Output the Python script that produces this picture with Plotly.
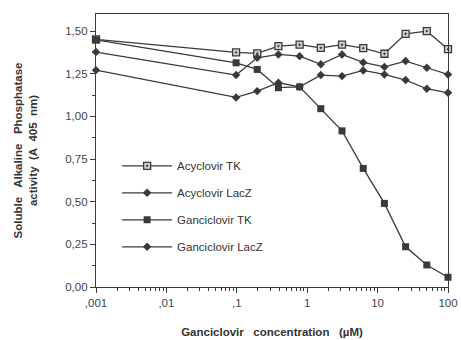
import plotly.graph_objects as go

conc = [0.001, 0.0977, 0.195, 0.39, 0.78, 1.56, 3.125, 6.25, 12.5, 25, 50, 100]
acyclovir_tk = [1.451, 1.375, 1.369, 1.412, 1.42, 1.402, 1.42, 1.40, 1.367, 1.484, 1.50, 1.394]
acyclovir_lacz = [1.377, 1.242, 1.343, 1.363, 1.353, 1.305, 1.363, 1.316, 1.29, 1.324, 1.285, 1.246]
ganciclovir_tk = [1.448, 1.314, 1.275, 1.168, 1.173, 1.045, 0.915, 0.695, 0.49, 0.236, 0.129, 0.057]
ganciclovir_lacz = [1.271, 1.111, 1.148, 1.197, 1.173, 1.242, 1.236, 1.269, 1.246, 1.213, 1.162, 1.138]

x_tickvals = [0.001, 0.01, 0.1, 1, 10, 100]
x_ticktext = [",001", ",01", ",1", "1", "10", "100"]
y_tickvals = [0, 0.25, 0.5, 0.75, 1.0, 1.25, 1.5]
y_ticktext = ["0,00", "0,25", "0,50", "0,75", "1,00", "1,25", "1,50"]

LINE = "#3a3a3a"
FONT = "Liberation Sans, Arial, sans-serif"

series = [
    ("Acyclovir TK", acyclovir_tk, dict(symbol="square-dot", size=7, color="#d0d0d0", line=dict(color=LINE, width=1.3))),
    ("Acyclovir LacZ", acyclovir_lacz, dict(symbol="diamond", size=6.5, color=LINE, line=dict(width=0))),
    ("Ganciclovir TK", ganciclovir_tk, dict(symbol="square", size=7, color=LINE, line=dict(width=0))),
    ("Ganciclovir LacZ", ganciclovir_lacz, dict(symbol="diamond", size=6.5, color=LINE, line=dict(width=0))),
]

fig = go.Figure()
for i, (name, ys, mk) in enumerate(series):
    fig.add_trace(go.Scatter(
        x=conc, y=ys, name=name, mode="lines+markers",
        line=dict(color=LINE, width=1.3), marker=mk,
        legendgroup=f"g{i}", cliponaxis=False,
    ))

minor_vals = [m * 10 ** e for e in range(-3, 2) for m in range(2, 10)]

fig.update_layout(
    width=461, height=340,
    margin=dict(l=96, r=13, t=14, b=53),
    paper_bgcolor="white", plot_bgcolor="white",
    font=dict(family=FONT, size=11, color="#333"),
    showlegend=True,
    legend=dict(x=0.06, y=0.497, xanchor="left", yanchor="top",
                bgcolor="rgba(0,0,0,0)", tracegroupgap=8, itemwidth=50,
                font=dict(size=11.5, color="#333")),
)
fig.update_xaxes(
    type="log", range=[-3, 2], tickvals=x_tickvals, ticktext=x_ticktext,
    ticks="outside", ticklen=5, tickwidth=1.2, tickcolor=LINE,
    minor=dict(tickvals=minor_vals, ticks="outside", ticklen=3, tickcolor=LINE, showgrid=False),
    showgrid=False, zeroline=False, showline=True, linecolor=LINE, linewidth=1.3, mirror=True,
    tickfont=dict(size=11.5, color="#444"), automargin=False,
    title=dict(text="<b>Ganciclovir&nbsp;&nbsp; concentration&nbsp;&nbsp; (µM)</b>", font=dict(size=11.5, color="#333"), standoff=19),
)
fig.update_yaxes(
    range=[0, 1.6], tickvals=y_tickvals, ticktext=y_ticktext,
    ticks="outside", ticklen=5, tickwidth=1.2, tickcolor=LINE,
    minor=dict(dtick=0.125, tick0=0, ticks="outside", ticklen=3, tickcolor=LINE, showgrid=False),
    showgrid=False, zeroline=False, showline=True, linecolor=LINE, linewidth=1.3, mirror=True,
    tickfont=dict(size=11.5, color="#444"), automargin=False,
    title=dict(text="<b>Soluble&nbsp;&nbsp; Alkaline&nbsp;&nbsp; Phosphatase<br>activity&nbsp; (A&nbsp; 405&nbsp; nm)</b>", font=dict(size=11.5, color="#333"), standoff=25),
)

fig.write_html("out.html")
